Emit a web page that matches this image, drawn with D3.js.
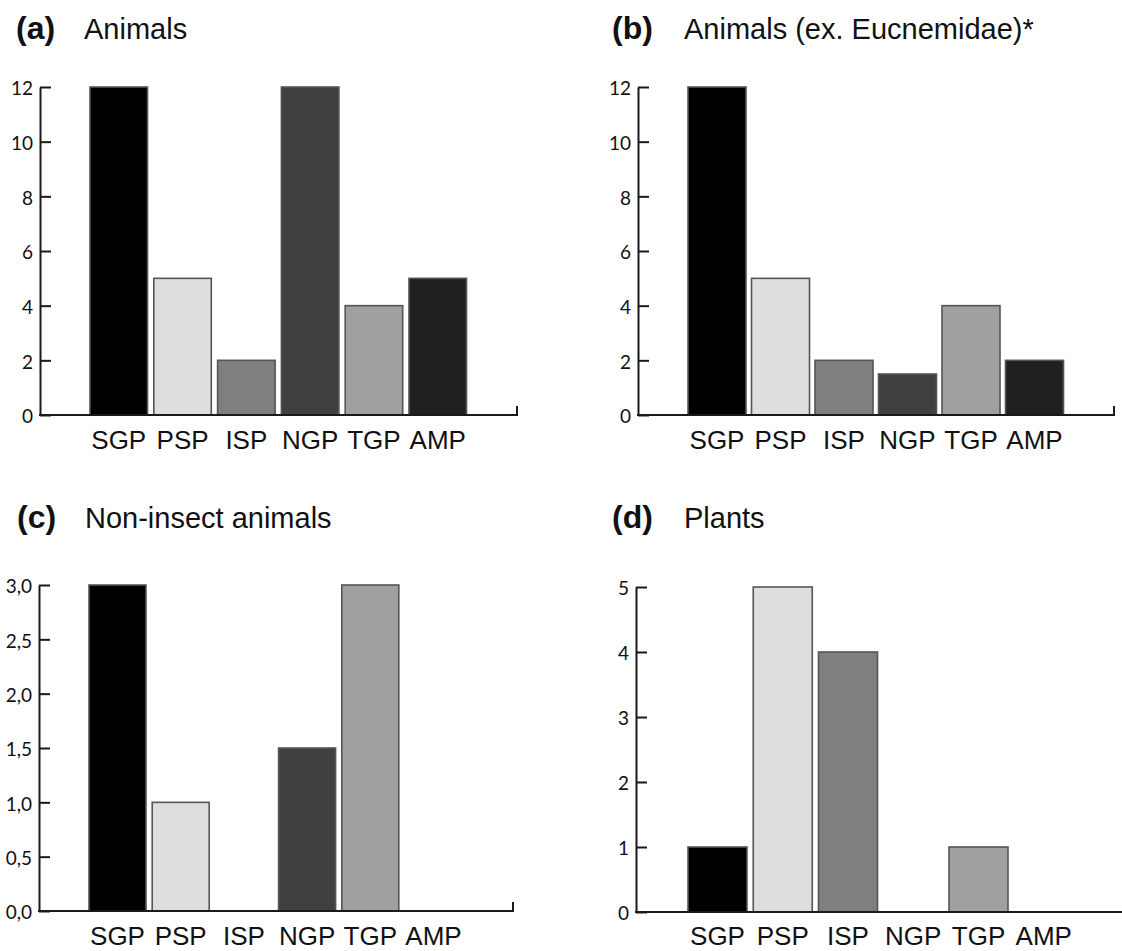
<!DOCTYPE html>
<html>
<head>
<meta charset="utf-8">
<script src="https://cdn.jsdelivr.net/npm/d3@7"></script>
<style>
  html, body { margin: 0; padding: 0; background: #fff; }
  svg { display: block; }
</style>
</head>
<body>
<svg id="chart" width="1122" height="951"></svg>
<script>
// ---- data ----
const categories = ["SGP", "PSP", "ISP", "NGP", "TGP", "AMP"];
const barColors = ["#000000", "#dedede", "#7f7f7f", "#404040", "#a0a0a0", "#202020"];
const animals = [12, 5, 2, 12, 4, 5];
const animalsExEucnemidae = [12, 5, 2, 1.5, 4, 2];
const nonInsectAnimals = [3, 1, 0, 1.5, 3, 0];
const plants = [1, 5, 4, 0, 1, 0];
const ticksA = [0, 2, 4, 6, 8, 10, 12];
const ticksB = [0, 2, 4, 6, 8, 10, 12];
const ticksC = [0, 0.5, 1, 1.5, 2, 2.5, 3];
const ticksD = [0, 1, 2, 3, 4, 5];
const panelLetters = ["(a)", "(b)", "(c)", "(d)"];
const panelTitles = ["Animals", "Animals (ex. Eucnemidae)*", "Non-insect animals", "Plants"];

// ---- layout ----
const panels = [
  { values: animals, ticks: ticksA, fmt: d3.format("d"), max: 12,
    ax: 40, xEnd: 517, y0: 415, yTop: 87, barStart: 90, step: 63.8, barW: 57.5,
    titleX: 16, letterW: 68, titleY: 39, labelY: 449, endTick: true },
  { values: animalsExEucnemidae, ticks: ticksB, fmt: d3.format("d"), max: 12,
    ax: 638, xEnd: 1114, y0: 415, yTop: 87, barStart: 688, step: 63.5, barW: 58,
    titleX: 612, letterW: 72, titleY: 39, labelY: 449, endTick: true },
  { values: nonInsectAnimals, ticks: ticksC, fmt: d => d3.format(".1f")(d).replace(".", ","), max: 3,
    ax: 39, xEnd: 513, y0: 911, yTop: 585, barStart: 89, step: 63.2, barW: 57,
    titleX: 17, letterW: 68, titleY: 528, labelY: 945, endTick: true },
  { values: plants, ticks: ticksD, fmt: d3.format("d"), max: 5,
    ax: 636, xEnd: 1130, y0: 912, yTop: 587, barStart: 688, step: 65.25, barW: 59,
    titleX: 612, letterW: 72, titleY: 528, labelY: 945, endTick: false }
];

const svg = d3.select("#chart");
const axisColor = "#1a1a1a";

panels.forEach((p, i) => {
  const g = svg.append("g");
  const pad = 1 - p.barW / p.step;
  const r0 = p.barStart - p.step * pad / 2;
  const x = d3.scaleBand().domain(categories)
    .range([r0, r0 + p.step * categories.length])
    .paddingInner(pad).paddingOuter(pad / 2);
  const y = d3.scaleLinear().domain([0, p.max]).range([p.y0, p.yTop]);

  // title
  g.append("text").attr("x", p.titleX).attr("y", p.titleY)
    .attr("font-family", "'Liberation Sans', Arial, sans-serif")
    .attr("font-weight", "bold").attr("font-size", 32).attr("fill", "#111")
    .text(panelLetters[i]);
  g.append("text").attr("x", p.titleX + p.letterW).attr("y", p.titleY)
    .attr("font-family", "'Liberation Sans', Arial, sans-serif")
    .attr("font-size", 29).attr("fill", "#111")
    .text(panelTitles[i]);

  // bars
  g.selectAll("rect.bar")
    .data(categories.map((c, j) => ({ c, v: p.values[j], col: barColors[j] })).filter(d => d.v > 0))
    .join("rect").attr("class", "bar")
    .attr("x", d => x(d.c)).attr("width", x.bandwidth())
    .attr("y", d => y(d.v)).attr("height", d => y(0) - y(d.v))
    .attr("fill", d => d.col)
    .attr("stroke", "#555").attr("stroke-width", 1.6);

  // y axis
  const yAxis = d3.axisLeft(y).tickValues(p.ticks).tickFormat(p.fmt)
    .tickSizeInner(-11).tickSizeOuter(0).tickPadding(7);
  const ya = g.append("g").attr("transform", `translate(${p.ax},0)`).call(yAxis);
  ya.select(".domain").attr("stroke", axisColor).attr("stroke-width", 2);
  ya.selectAll(".tick line").attr("stroke", axisColor).attr("stroke-width", 2);
  ya.selectAll(".tick text").attr("font-family", "Lato, 'Open Sans', sans-serif")
    .attr("font-size", 19).attr("fill", "#111").attr("dy", "0.42em");

  // x axis baseline
  const base = d3.path();
  base.moveTo(p.ax - 1, y(0));
  base.lineTo(p.xEnd, y(0));
  if (p.endTick) base.lineTo(p.xEnd, y(0) - 9);
  g.append("path").attr("d", base.toString()).attr("fill", "none")
    .attr("stroke", axisColor).attr("stroke-width", 2);

  // category labels
  const xAxis = d3.axisBottom(x).tickSize(0).tickPadding(0);
  const xa = g.append("g").attr("transform", `translate(0,${p.labelY})`).call(xAxis);
  xa.select(".domain").remove();
  xa.selectAll(".tick text").attr("font-family", "'Liberation Sans', Arial, sans-serif")
    .attr("font-size", 26).attr("fill", "#111").attr("dy", 0);
});
</script>
</body>
</html>
